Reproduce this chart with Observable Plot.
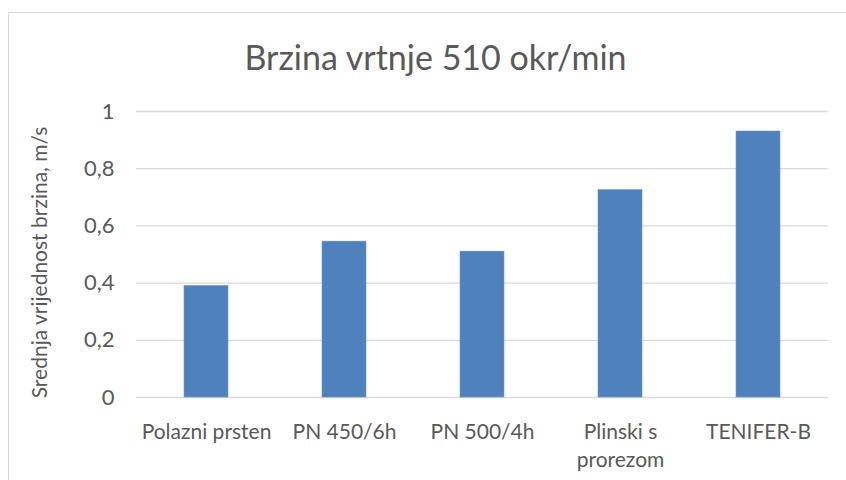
<!DOCTYPE html>
<html>
<head>
<meta charset="utf-8">
<script src="https://cdn.jsdelivr.net/npm/d3@7"></script>
<script src="https://cdn.jsdelivr.net/npm/@observablehq/plot@0.6"></script>
<style>
  html, body { margin: 0; padding: 0; background: #fff; }
  #wrap { position: relative; width: 846px; height: 480px; overflow: hidden; }
  #frame { position: absolute; left: 8px; top: 12px; width: 900px; height: 500px;
           border-left: 1.5px solid #d9d9d9; border-top: 1.5px solid #d9d9d9; box-sizing: border-box; }
  #chart { position: absolute; left: 0; top: 0; }
</style>
</head>
<body>
<div id="wrap"><div id="frame"></div><div id="chart"></div></div>
<script>
const title = "Brzina vrtnje 510 okr/min";
const yLabel = "Srednja vrijednost brzina, m/s";
const categories = ["Polazni prsten", "PN 450/6h", "PN 500/4h", "Plinski s prorezom", "TENIFER-B"];
const xTickLabels = ["Polazni prsten", "PN 450/6h", "PN 500/4h", "Plinski s\nprorezom", "TENIFER-B"];
const values = [0.39, 0.545, 0.51, 0.725, 0.93];
const yTicks = [0, 0.2, 0.4, 0.6, 0.8, 1];

const data = categories.map((c, i) => ({category: c, value: values[i]}));
const labelOf = new Map(categories.map((c, i) => [c, xTickLabels[i]]));
const font = "Lato, 'Open Sans', sans-serif";
const txt = "#595959";

const chart = Plot.plot({
  width: 846,
  height: 480,
  marginLeft: 136,
  marginRight: 18,
  marginTop: 111,
  marginBottom: 83,
  style: {fontFamily: font, background: "transparent", overflow: "visible"},
  x: {domain: categories, paddingInner: 0.68, paddingOuter: 0.34, label: null},
  y: {domain: [0, 1], label: null},
  marks: [
    Plot.gridY(yTicks, {stroke: "#d9d9d9", strokeOpacity: 1, strokeWidth: 1.3}),
    Plot.barY(data, {x: "category", y: "value", fill: "#4f81bd", stroke: "#6b95c8", strokeWidth: 0.6}),
    Plot.axisY({ticks: yTicks, tickSize: 0, tickPadding: 22, tickFormat: d => String(d).replace(".", ","),
                fontSize: 22, fill: txt, label: null}),
    Plot.axisX({tickSize: 0, tickPadding: 22, tickFormat: d => labelOf.get(d), fontSize: 21, fill: txt,
                lineHeight: 1.32, label: null, lineAnchor: "top"}),
    Plot.text([title], {frameAnchor: "top", dx: -47, dy: -66, fontSize: 34, fill: txt, fontFamily: font}),
    Plot.text([yLabel], {frameAnchor: "left", textAnchor: "middle", rotate: -90, dx: -96, dy: 8,
                         fontSize: 21, fill: txt, fontFamily: font})
  ]
});
document.getElementById("chart").appendChild(chart);
</script>
</body>
</html>
